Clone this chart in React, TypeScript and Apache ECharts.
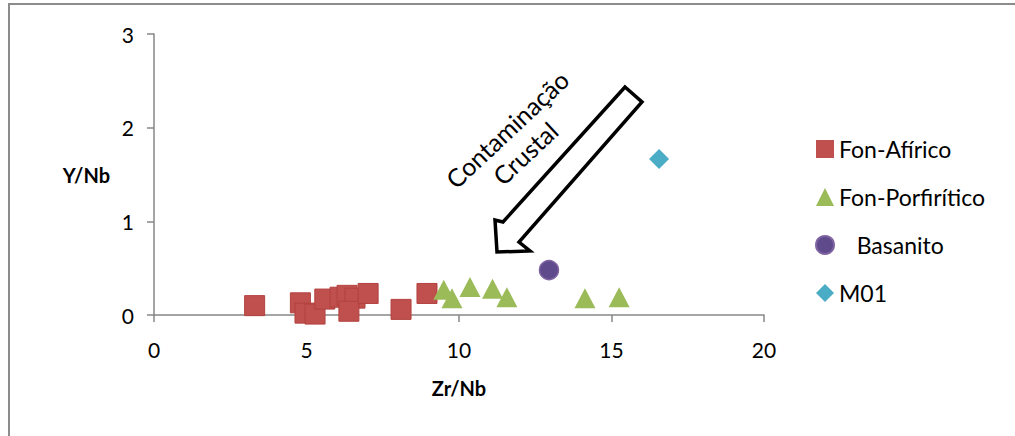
import React, { useEffect, useRef } from "react";
import * as echarts from "echarts";

const africoX = [3.3, 4.8, 4.95, 5.28, 5.6, 6.1, 6.33, 6.59, 6.39, 7.02, 8.1, 8.95];
const africoY = [0.1, 0.13, 0.02, 0.01, 0.17, 0.19, 0.21, 0.18, 0.04, 0.23, 0.06, 0.23];
const porfX = [9.5, 9.77, 10.36, 11.1, 11.57, 14.13, 15.25];
const porfY = [0.27, 0.18, 0.3, 0.28, 0.19, 0.18, 0.19];
const basX = [12.95];
const basY = [0.48];
const m01X = [16.56];
const m01Y = [1.665];
const seriesNames = ["Fon-Afírico", "Fon-Porfirítico", "Basanito", "M01"];
const xTicks = [0, 5, 10, 15, 20];
const yTicks = [0, 1, 2, 3];

const zip = (xs: number[], ys: number[]) => xs.map((x, i) => [x, ys[i]]);

const FONT = "Lato, 'Noto Sans', sans-serif";

export default function App() {
  const ref = useRef<HTMLDivElement>(null);
  useEffect(() => {
    if (!ref.current) return;
    const chart = echarts.init(ref.current, null, { renderer: "svg" });
    const axisLine = { lineStyle: { color: "#878787", width: 1.5 } };
    chart.setOption({
      animation: false,
      backgroundColor: "#fff",
      grid: { left: 154, right: 251, top: 34, bottom: 121 },
      xAxis: {
        type: "value",
        min: xTicks[0],
        max: xTicks[xTicks.length - 1],
        interval: 5,
        splitLine: { show: false },
        axisLine,
        axisTick: { show: true, length: 7, lineStyle: { color: "#878787", width: 1.5 } },
        axisLabel: { color: "#000", fontSize: 21, fontFamily: FONT, margin: 24 },
        name: "Zr/Nb",
        nameLocation: "middle",
        nameGap: 63,
        nameTextStyle: { color: "#000", fontSize: 20, fontWeight: "bold", fontFamily: FONT },
      },
      yAxis: {
        type: "value",
        min: yTicks[0],
        max: yTicks[yTicks.length - 1],
        interval: 1,
        splitLine: { show: false },
        axisLine: { show: true, ...axisLine },
        axisTick: { show: true, length: 7, lineStyle: { color: "#878787", width: 1.5 } },
        axisLabel: { color: "#000", fontSize: 21, fontFamily: FONT, margin: 20 },
        name: "Y/Nb",
        nameLocation: "middle",
        nameRotate: 0,
        nameGap: 44,
        nameTextStyle: { color: "#000", fontSize: 20, fontWeight: "bold", fontFamily: FONT, align: "right", padding: [0, 0, 5, 0] },
      },
      legend: {
        orient: "vertical",
        left: 815,
        top: 136,
        padding: 0,
        itemGap: 22,
        itemWidth: 18,
        itemHeight: 18,
        textStyle: { color: "#000", fontSize: 23, fontFamily: FONT, lineHeight: 26 },
        formatter: (n: string) => (n === "Basanito" ? "   " + n : n),
        data: [
          { name: seriesNames[0], icon: "rect", itemStyle: { borderWidth: 0 } },
          { name: seriesNames[1], icon: "triangle" },
          { name: seriesNames[2], icon: "circle" },
          { name: seriesNames[3], icon: "diamond" },
        ],
      },
      series: [
        {
          name: seriesNames[0],
          type: "scatter",
          symbol: "rect",
          symbolSize: 20,
          itemStyle: { color: "#C0504D", borderColor: "#B2413E", borderWidth: 1, opacity: 1 },
          data: zip(africoX, africoY),
        },
        {
          name: seriesNames[1],
          type: "scatter",
          symbol: "triangle",
          symbolSize: [21, 20],
          itemStyle: { color: "#9BBB59", opacity: 1 },
          data: zip(porfX, porfY),
        },
        {
          name: seriesNames[2],
          type: "scatter",
          symbol: "circle",
          symbolSize: 19,
          itemStyle: { color: "#5F4B8B", borderColor: "#8064A2", borderWidth: 1.5, opacity: 1 },
          data: zip(basX, basY),
        },
        {
          name: seriesNames[3],
          type: "scatter",
          symbol: "diamond",
          symbolSize: 20,
          itemStyle: { color: "#4BACC6", opacity: 1 },
          data: zip(m01X, m01Y),
        },
      ],
      graphic: [
        {
          type: "rect",
          shape: { x: 9, y: 4, width: 1100, height: 600 },
          style: { fill: "none", stroke: "#8c8c8c", lineWidth: 2 },
          silent: true,
          z: 0,
        },
        {
          type: "polygon",
          shape: {
            points: [
              [625, 87],
              [642, 102],
              [519, 242],
              [530, 251],
              [497, 252],
              [495, 220],
              [503, 222],
            ],
          },
          style: { fill: "#fff", stroke: "#000", lineWidth: 3.5, lineJoin: "miter" },
          z: 10,
        },
        {
          type: "text",
          x: 507,
          y: 129,
          rotation: Math.PI / 4 * 0.96,
          style: {
            text: "Contaminação",
            fill: "#000",
            font: `25px ${FONT}`,
            align: "center",
            verticalAlign: "middle",
          },
          z: 10,
        },
        {
          type: "text",
          x: 525,
          y: 153,
          rotation: Math.PI / 4 * 0.96,
          style: {
            text: "Crustal",
            fill: "#000",
            font: `25px ${FONT}`,
            align: "center",
            verticalAlign: "middle",
          },
          z: 10,
        },
      ],
    });
    return () => chart.dispose();
  }, []);
  return <div ref={ref} style={{ width: 1015, height: 436, position: "absolute", left: 0, top: 0 }} />;
}
